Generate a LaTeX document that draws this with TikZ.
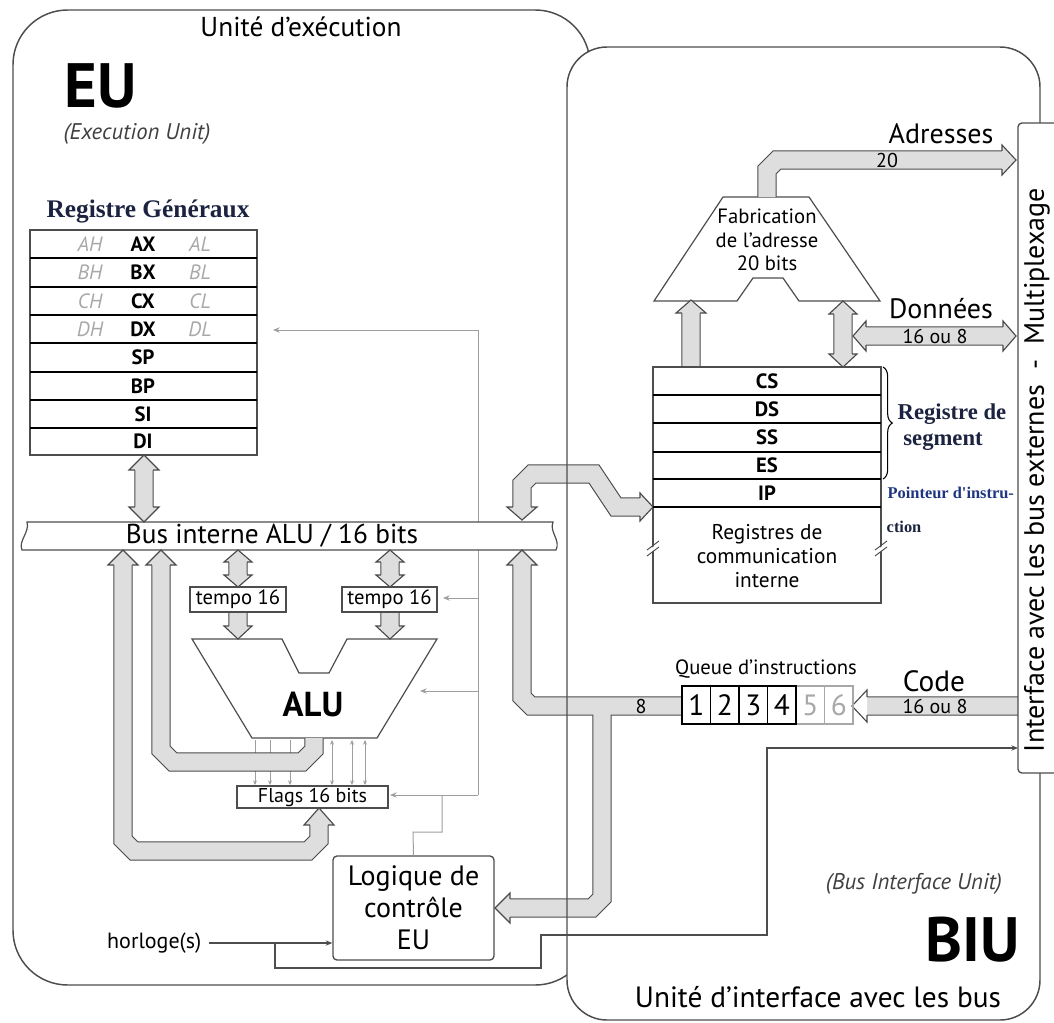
\documentclass[tikz,border=0pt]{standalone}
\usepackage{fontspec}
\setmainfont{PT Sans}
\newfontfamily\serifbf{Liberation Serif}
\usetikzlibrary{arrows.meta,decorations.pathreplacing}
\definecolor{boxline}{HTML}{4D4D4D}
\definecolor{bandline}{HTML}{4A4A4A}
\definecolor{bandfill}{HTML}{DEDEDE}
\definecolor{ctrl}{HTML}{9E9E9E}
\definecolor{navy}{HTML}{1C2340}
\definecolor{ipblue}{HTML}{1E3580}
\definecolor{lightreg}{HTML}{A8A8A8}
\newcommand{\fsz}[2]{\fontsize{#1}{#2}\selectfont}
\newcommand{\fhead}[6][bandfill]{%
  \begin{scope}[shift={(#2,#3)},rotate=#4]
    \fill[#1] (-#5,-9.1) -- (-#5,-#6) -- (0,0) -- (-#5,#6) -- (-#5,9.1) -- cycle;
    \draw[bandline,line width=0.85pt,line join=miter] (-#5,-9.1) -- (-#5,-#6) -- (0,0) -- (-#5,#6) -- (-#5,9.1);
  \end{scope}}
\newcommand{\bandpaths}{%
  (161,565) -- (161,750) -- (173,762) -- (302,762) -- (314,750) -- (314,738)
  (123,565) -- (123,840) -- (134,851) -- (308,851) -- (319,840) -- (319,825)
  (144,470) -- (144,507)
  (238,562) -- (238,575)
  (390,562) -- (390,575)
  (238,612) -- (238,626)
  (390,612) -- (390,626)
  (682,706) -- (531,706) -- (522,697) -- (522,565)
  (602,706) -- (602,898) -- (592,908) -- (510,908)
  (522,507) -- (522,484) -- (532,474) -- (594,474) -- (616,507) -- (640,507)
  (767,197) -- (767,170) -- (777,160) -- (1002,160)
  (691,367) -- (691,313)
  (843,314) -- (843,354)
  (866,336) -- (1003,336)
  (1018,706) -- (867,706)
}
\begin{document}
\begin{tikzpicture}[x=0.75pt,y=-0.75pt,
  bandO/.style={draw=bandline,line width=14.5pt,line join=miter,line cap=butt},
  bandI/.style={draw=bandfill,line width=12.8pt,line join=miter,line cap=butt},
  ctrlline/.style={draw=ctrl,line width=0.75pt},
  tip/.style={-{Stealth[length=5pt,width=4pt]}},
  smalltip/.style={-{Stealth[length=3.5pt,width=3pt]}},
  regname/.style={font=\fsz{15.5}{17}\bfseries},
  reghalf/.style={font=\fsz{15.5}{17}\itshape,text=lightreg},
  lbl/.style={inner sep=0pt}]
\useasboundingbox (0,0) rectangle (1054,1022);

% ---------- unit boxes ----------
\draw[boxline,line width=1.1pt,rounded corners=41pt] (13,10) rectangle (590,985);
\fill[white,rounded corners=30pt] (567,47) rectangle (1040,1020);

% ---------- control (thin) lines ----------
\node[draw=boxline,line width=1pt,rounded corners=3pt,minimum width=120.75pt,minimum height=78pt,
  align=center,font=\fsz{21}{24}] (logic) at (413.5,908) {Logique de\\contrôle\\EU};
\coordinate (cj) at (478,795);
\draw[ctrlline] (logic.north) -- (413,832) -- (442,832) -- (442,795);
\draw[ctrlline,tip] (cj) -- (390,795);
\draw[ctrlline] (cj) -- (478,330);
\draw[ctrlline,tip] (478,330) -- (273,330);
\draw[ctrlline,tip] (478,598) -- (443,598);
\draw[ctrlline,tip] (478,691) -- (420,691);

% small flag lines
\foreach \x in {255,270,290}
  \draw[ctrlline,line width=0.6pt,smalltip] (\x,740) -- (\x,785);
\foreach \x in {332,352,365}
  \draw[ctrlline,line width=0.6pt,{Stealth[length=3.5pt,width=3pt]}-{Stealth[length=3.5pt,width=3pt]}] (\x,740) -- (\x,785);

% clock line
\node[font=\fsz{16.5}{18},anchor=east] (horl) at (206,943) {horloge(s)};
\coordinate (hj) at (275,943);
\draw[boxline,line width=0.8pt,tip] (horl.east) ++(3,0) -- (logic.west |- horl.east);
\draw[boxline,line width=0.8pt,tip] (hj) -- (275,968) -- (541,968) -- (541,935) -- (767,935) -- (767,748) -- (1018,748);

% ---------- ALU ----------
\draw[boxline,line width=0.9pt,fill=white] (192,639) -- (282,639) -- (299,673) -- (329,673) -- (347,639) -- (437,639) -- (377,738) -- (252,738) -- cycle;
\node[font=\fsz{26}{28}\bfseries] (alu) at (313,704) {ALU};

% ---------- bus interne ----------
\draw[boxline,fill=white,line width=0.9pt] (27,522) -- (553,522) .. controls (549,532) and (561,540) .. (556,550) -- (22,550) .. controls (18,541) and (30,532) .. (27,522) -- cycle;
\node[font=\fsz{20.5}{22}] (bus) at (272,536) {Bus interne ALU / 16 bits};

% ---------- address fabrication ----------
\draw[boxline,line width=0.9pt,fill=white] (723,197) -- (809,197) -- (880,301) -- (799,301) -- (783,278) -- (753,278) -- (737,301) -- (654,301) -- cycle;
\node[align=center,font=\fsz{15.5}{17.6}] (fab) at (767,240) {Fabrication\\de l'adresse\\20 bits};

% ---------- fat buses ----------
\draw[bandO] \bandpaths;
\draw[bandI] \bandpaths;
\fhead{144}{455}{90}{15}{15}
\fhead{144}{522}{-90}{15}{15}
\fhead{123}{550}{90}{15}{15}
\fhead{161}{550}{90}{15}{15}
\fhead{319}{808}{90}{17}{15}
\fhead{238}{550}{90}{12}{14}
\fhead{238}{587}{-90}{12}{14}
\fhead{390}{550}{90}{12}{14}
\fhead{390}{587}{-90}{12}{14}
\fhead{238}{639}{-90}{13}{14}
\fhead{390}{639}{-90}{13}{14}
\fhead{522}{550}{90}{15}{15}
\fhead{495}{908}{180}{15}{15}
\fhead{522}{520}{-90}{13}{15}
\fhead{653}{507}{0}{13}{14}
\fhead{1016}{160}{0}{14}{15}
\fhead{691}{300}{90}{13}{15}
\fhead{843}{301}{90}{13}{14}
\fhead{843}{367}{-90}{13}{14}
\fhead{853}{336}{180}{13}{15}
\fhead{1016}{336}{0}{13}{15}
\fhead[white]{852}{706}{180}{15}{16}

\node[font=\fsz{15}{16}] (n8) at (641,706) {8};
\node[font=\fsz{15}{16}] (n20) at (887,160) {20};
\node[font=\fsz{21}{22}] (adr) at (941,134) {Adresses};
\node[font=\fsz{21}{22}] (don) at (941,309) {Données};
\node[font=\fsz{15}{16}] (don8) at (935,336) {16 ou 8};
\node[font=\fsz{22}{24}] (code) at (934,681) {Code};
\node[font=\fsz{15}{16}] (code8) at (935,706) {16 ou 8};

% ---------- BIU outline on top ----------
\draw[boxline,line width=1.1pt,rounded corners=30pt] (567,47) rectangle (1040,1020);

% interface box
\draw[boxline,line width=1pt,fill=white,rounded corners=3pt] (1058,123) -- (1018,123) -- (1018,773) -- (1058,773);
\node[rotate=90,font=\fsz{21}{22}] (iface) at (1037,470) {Interface avec les bus externes\ \ -\ \ Multiplexage};

% ---------- tempo / flags ----------
\node[draw=boxline,line width=0.9pt,fill=white,minimum width=72pt,minimum height=18.75pt,inner sep=0pt,font=\fsz{15.5}{16}] (tempoL) at (238,599.5) {tempo 16};
\node[draw=boxline,line width=0.9pt,fill=white,minimum width=71.25pt,minimum height=18.75pt,inner sep=0pt,font=\fsz{15.5}{16}] (tempoR) at (389.5,599.5) {tempo 16};
\node[draw=boxline,line width=0.9pt,fill=white,minimum width=113.25pt,minimum height=16.5pt,inner sep=0pt,font=\fsz{15}{16}] (flags) at (312.5,797) {Flags 16 bits};

% ---------- general registers ----------
\node[font=\serifbf\bfseries\fsz{19}{21},text=navy] (gentitle) at (148,211) {Registre Généraux};
\draw[boxline,line width=0.9pt] (30,230) rectangle (257,455);
\foreach \y in {258,287,315,343,372,400,428} \draw[black,line width=1.1pt] (30,\y) -- (257,\y);
\node[regname] (ax) at (143,244) {AX};
\node[regname] (bx) at (143,272.5) {BX};
\node[regname] (cx) at (143,301) {CX};
\node[regname] (dx) at (143,329) {DX};
\node[regname] (sp) at (143,357.5) {SP};
\node[regname] (bp) at (143,386) {BP};
\node[regname] (si) at (143,414) {SI};
\node[regname] (di) at (143,441.5) {DI};
\node[reghalf] (ah) at (90,244) {AH};
\node[reghalf] (al) at (200,244) {AL};
\node[reghalf] (bh) at (90,272.5) {BH};
\node[reghalf] (bl) at (200,272.5) {BL};
\node[reghalf] (ch) at (90,301) {CH};
\node[reghalf] (cl) at (200,301) {CL};
\node[reghalf] (dh) at (90,329) {DH};
\node[reghalf] (dl) at (200,329) {DL};

% ---------- segment registers ----------
\draw[boxline,line width=0.9pt] (653,367) rectangle (881,603);
\foreach \y in {395,423,452,479,507} \draw[black,line width=1.1pt] (653,\y) -- (881,\y);
\node[regname] (cs) at (767,381) {CS};
\node[regname] (ds) at (767,409) {DS};
\node[regname] (ss) at (767,437.5) {SS};
\node[regname] (es) at (767,465.5) {ES};
\node[regname] (ip) at (767,493) {IP};
\node[align=center,font=\fsz{16}{18}] (comm) at (767,556) {Registres de\\communication\\interne};
\foreach \x in {653,881}{
  \fill[white] (\x-5,551) -- (\x+5,543) -- (\x+5,547) -- (\x-5,555) -- cycle;
  \draw[boxline,line width=0.7pt] (\x-6,550) -- (\x+6,541);
  \draw[boxline,line width=0.7pt] (\x-6,556) -- (\x+6,547);
}
\draw[black,line width=0.8pt,decorate,decoration={brace,amplitude=7pt}] (883,367) -- (883,479);
\node[anchor=west,align=left,font=\serifbf\bfseries\fsz{17}{20},text=navy] (segt) at (893,427) {Registre de\\\ segment};
\node[anchor=west,font=\serifbf\bfseries\fsz{12.3}{13},text=ipblue] (ipt1) at (883,493) {Pointeur d'instru-};
\node[anchor=west,font=\serifbf\bfseries\fsz{12.3}{13},text=navy] (ipt2) at (882,527) {ction};

% ---------- instruction queue ----------
\node[font=\fsz{15.5}{17}] (qt) at (766,669) {Queue d'instructions};
\foreach \i in {4,5} \draw[lightreg,line width=0.9pt] ({682+28.5*\i},686) rectangle ({682+28.5*(\i+1)},724);
\foreach \i in {0,1,2,3} \draw[black,line width=0.9pt] ({682+28.5*\i},686) rectangle ({682+28.5*(\i+1)},724);
\node[font=\fsz{22}{24}] (q1) at (696.25,705) {1};
\node[font=\fsz{22}{24}] (q2) at (724.75,705) {2};
\node[font=\fsz{22}{24}] (q3) at (753.25,705) {3};
\node[font=\fsz{22}{24}] (q4) at (781.75,705) {4};
\node[font=\fsz{22}{24},text=lightreg] (q5) at (810.25,705) {5};
\node[font=\fsz{22}{24},text=lightreg] (q6) at (838.75,705) {6};

% ---------- titles ----------
\node[font=\fsz{20.5}{22}] (eutitle) at (301,27) {Unité d'exécution};
\node[font=\fsz{47}{50}\bfseries,inner sep=0pt] (eu) at (101,86) {EU};
\node[font=\fsz{17}{18}\itshape,text=darkgray,inner sep=0.5pt] (eusub) at (137,134) {(Execution Unit)};
\node[font=\fsz{17}{18}\itshape,text=darkgray] (biusub) at (914,884) {(Bus Interface Unit)};
\node[font=\fsz{47}{50}\bfseries,inner sep=0pt] (biu) at (973,940) {BIU};
\node[font=\fsz{22}{24}] (biutitle) at (818,997) {Unité d'interface avec les bus};
\end{tikzpicture}
\end{document}
